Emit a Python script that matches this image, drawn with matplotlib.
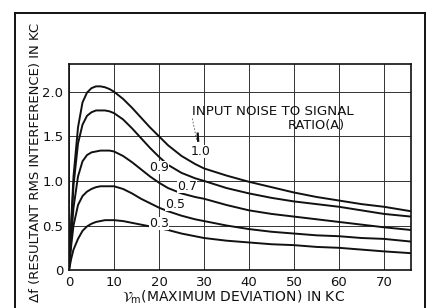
import matplotlib
matplotlib.use("Agg")
import matplotlib.pyplot as plt
from matplotlib.lines import Line2D

# deviation (kc) at which the curves were read
nu_m = [0, 0.5, 1, 2, 3, 4, 5, 6, 7, 8, 9, 10, 12, 14, 16, 18, 20, 22, 25, 28,
        30, 35, 40, 45, 50, 55, 60, 65, 70, 76]

# resultant rms interference (kc) for each input noise-to-signal ratio
df_10 = [0, 0.55, 1.05, 1.60, 1.88, 1.99, 2.04, 2.06, 2.06, 2.05, 2.03, 2.00, 1.92, 1.82, 1.71,
         1.60, 1.50, 1.40, 1.28, 1.19, 1.14, 1.06, 0.99, 0.93, 0.87, 0.82, 0.78, 0.74, 0.71, 0.66]
df_09 = [0, 0.50, 0.95, 1.42, 1.63, 1.73, 1.77, 1.79, 1.79, 1.79, 1.78, 1.76, 1.69, 1.59, 1.48,
         1.37, 1.27, 1.18, 1.09, 1.03, 1.00, 0.92, 0.86, 0.81, 0.77, 0.74, 0.71, 0.67, 0.63, 0.60]
df_07 = [0, 0.38, 0.70, 1.05, 1.22, 1.29, 1.32, 1.33, 1.34, 1.34, 1.34, 1.33, 1.28, 1.21, 1.13,
         1.05, 0.98, 0.92, 0.86, 0.82, 0.80, 0.73, 0.67, 0.63, 0.60, 0.57, 0.54, 0.51, 0.48, 0.45]
df_05 = [0, 0.28, 0.50, 0.73, 0.83, 0.88, 0.91, 0.93, 0.94, 0.94, 0.94, 0.94, 0.91, 0.86, 0.80,
         0.75, 0.70, 0.66, 0.61, 0.57, 0.55, 0.50, 0.46, 0.43, 0.41, 0.39, 0.38, 0.36, 0.35, 0.32]
df_03 = [0, 0.13, 0.23, 0.35, 0.44, 0.49, 0.52, 0.54, 0.55, 0.56, 0.56, 0.56, 0.55, 0.53, 0.51,
         0.49, 0.47, 0.45, 0.41, 0.38, 0.36, 0.33, 0.31, 0.29, 0.28, 0.26, 0.25, 0.23, 0.21, 0.19]

curves = [df_10, df_09, df_07, df_05, df_03]
curve_labels = ["1.0", "0.9", "0.7", "0.5", "0.3"]
label_pos = [(29.3, 1.33), (20.0, 1.15), (26.2, 0.94), (23.6, 0.74), (20.0, 0.52)]

x_ticks = [0, 10, 20, 30, 40, 50, 60, 70]
x_ticklabels = ["0", "10", "20", "30", "40", "50", "60", "70"]
y_ticks = [0, 0.5, 1.0, 1.5, 2.0]
y_ticklabels = ["0", "0.5", "1.0", "1.5", "2.0"]

fig = plt.figure(figsize=(4.34, 3.08), dpi=100)
ax = fig.add_axes([0.159, 0.123, 0.788, 0.669])

for ys in curves:
    ax.plot(nu_m, ys, color="#111111", lw=1.4, solid_capstyle="round", solid_joinstyle="round")

for txt, (lx, ly) in zip(curve_labels, label_pos):
    ax.text(lx, ly, txt, fontsize=9, color="#111111", ha="center", va="center",
            bbox=dict(facecolor="white", edgecolor="none", pad=0.2))

ax.text(45.3, 1.78, "INPUT NOISE TO SIGNAL", fontsize=9.6, color="#111111",
        ha="center", va="center")
ax.text(55.0, 1.62, "RATIO(A)", fontsize=9.3, color="#111111", ha="center", va="center")
# little pointer down to the 1.0 label
ax.plot([27.4, 28.4], [1.70, 1.45], color="#555555", lw=0.6, ls=(0, (2, 2)))
ax.plot([28.6, 28.7], [1.53, 1.45], color="#111111", lw=1.6)

ax.set_xlim(0, 76)
ax.set_ylim(0, 2.31)
ax.set_xticks(x_ticks)
ax.set_xticklabels(x_ticklabels)
ax.set_yticks(y_ticks)
ax.set_yticklabels(y_ticklabels)
ax.tick_params(length=0, labelsize=9.5, pad=4, colors="#111111")
ax.grid(True, color="#333333", lw=0.7)
ax.set_axisbelow(True)
for s in ax.spines.values():
    s.set_color("#111111")
    s.set_linewidth(1.2)

fig.text(0.537, 0.035, r"$\mathcal{V}_{\rm m}$(MAXIMUM DEVIATION) IN KC", fontsize=10,
         ha="center", va="center", color="#111111")
fig.text(0.081, 0.474, "Δf (RESULTANT RMS INTERFERENCE) IN KC", fontsize=9.5,
         rotation=90, ha="center", va="center", color="#111111")

# outer frame of the printed figure
fig.add_artist(Line2D([0.035, 0.035], [0.0, 0.958], color="#111111", lw=1.4))
fig.add_artist(Line2D([0.035, 0.979], [0.958, 0.958], color="#111111", lw=1.4))
fig.add_artist(Line2D([0.979, 0.979], [0.0, 0.958], color="#111111", lw=1.4))

fig.savefig("out.png", dpi=100)
